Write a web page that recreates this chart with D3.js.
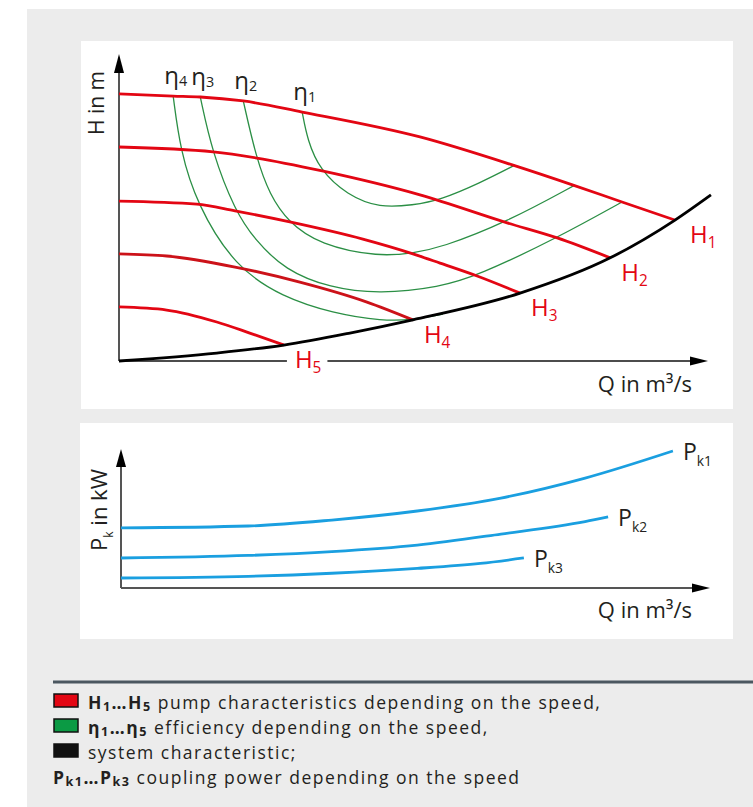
<!DOCTYPE html>
<meta charset="utf-8">
<script src="https://d3js.org/d3.v7.min.js"></script>
<style>
  body { margin: 0; background: #fff; }
  svg { display: block; }
  text { font-family: "Open Sans", Roboto, "Liberation Sans", sans-serif; fill: #231f20; }
</style>
<div id="chart"></div>
<script>

// pump characteristics H1..H5, points as [Q, H] (axis units 0..100)
var pumpH1 = [[0,87.0],[9.2,86.3],[13.8,86.0],[21.1,84.7],[31.1,81.1],[51.1,73.0],[66.9,63.8],[77.1,57.3],[85.4,51.8],[94.4,45.9]];
var pumpH2 = [[0,69.7],[16.0,68.1],[23.4,66.1],[34.5,61.9],[51.1,54.1],[65.9,45.0],[74.4,40.1],[83.4,33.6]];
var pumpH3 = [[0,52.1],[13.2,51.1],[19.7,48.9],[29.0,45.3],[41.4,39.7],[49.9,34.9],[54.5,31.9],[60.8,27.7],[68.1,22.1]];
var pumpH4 = [[0,34.9],[8.1,34.2],[19.7,30.6],[30.7,25.7],[42.1,19.2],[49.9,13.4]];
var pumpH5 = [[0,17.6],[8.1,16.6],[16.6,12.7],[22.2,9.1],[28.0,5.2]];
var pumpNames = ["1", "2", "3", "4", "5"];

// efficiency curves eta1..eta4
var eta1 = [[31.1,81.1],[32.0,71.9],[34.1,62.2],[38.7,54.1],[44.3,49.8],[49.9,50.8],[54.5,52.4],[61.3,58.0],[67.2,63.8]];
var eta2 = [[21.1,84.7],[23.3,66.1],[25.6,54.1],[28.7,45.3],[34.1,37.8],[44.3,33.9],[49.9,35.2],[54.5,36.8],[65.9,45.3],[77.4,57.3]];
var eta3 = [[13.8,86.0],[15.8,68.1],[19.7,48.9],[23.1,39.4],[28.2,29.6],[35.8,23.8],[44.3,21.8],[54.5,24.1],[60.8,27.7],[74.4,40.1],[85.4,51.8]];
var eta4 = [[9.2,86.3],[10.4,68.7],[13.2,51.1],[19.7,30.6],[27.8,20.8],[36.3,15.6],[44.8,13.0],[49.9,13.4],[55.0,15.3]];
var etaNames = ["1", "2", "3", "4"];

// system characteristic
var system = [[0,0],[16.6,2.6],[28.0,5.2],[39.2,9.1],[49.9,13.4],[68.1,22.1],[83.4,33.6],[94.4,45.9],[100.5,54.1]];

// coupling power Pk1..Pk3, [Q, P]
var powerK1 = [[0,43.2],[21.6,44.6],[35.8,48.9],[50.3,55.4],[64.5,64.7],[78.8,79.1],[93.7,98.6]];
var powerK2 = [[0,21.6],[21.6,23.4],[35.8,26.2],[50.3,30.9],[64.5,38.8],[78.8,47.8],[82.7,51.1]];
var powerK3 = [[0,7.2],[21.6,8.4],[35.8,10.6],[50.3,14.1],[61.0,17.7],[68.4,21.6]];
var powerNames = ["k1", "k2", "k3"];

var RED = "#e30613", GREEN = "#2b8f45", BLUE = "#1a9fe0";

var svg = d3.select("#chart").append("svg")
    .attr("width", 753)
    .attr("height", 807);

// panels
svg.append("rect").attr("x", 27).attr("y", 9).attr("width", 726).attr("height", 798).attr("fill", "#ececec");
svg.append("rect").attr("x", 81).attr("y", 41).attr("width", 652).attr("height", 368).attr("fill", "#fff");
svg.append("rect").attr("x", 80).attr("y", 423).attr("width", 653).attr("height", 216).attr("fill", "#fff");

// writes text with subscripts: parts = [text, kind], kind has "b" for bold, "s" for subscript
function rich(sel, parts, size, subScale, subDrop) {
  var shift = 0;
  parts.forEach(function(p) {
    var isSub = p[1].indexOf("s") >= 0;
    var target = isSub ? size * subDrop : 0;
    var ts = sel.append("tspan")
      .attr("dy", target - shift)
      .attr("font-size", isSub ? size * subScale : size)
      .text(p[0]);
    if (p[1].indexOf("b") >= 0) ts.attr("font-weight", "bold");
    shift = target;
  });
}

function arrowUp(g, cx, tip, len, half) {
  g.append("path").attr("d", "M" + cx + "," + tip + "L" + (cx - half) + "," + (tip + len) + "L" + (cx + half) + "," + (tip + len) + "Z").attr("fill", "#000");
}
function arrowRight(g, cy, tip, len, half) {
  g.append("path").attr("d", "M" + tip + "," + cy + "L" + (tip - len) + "," + (cy - half) + "L" + (tip - len) + "," + (cy + half) + "Z").attr("fill", "#000");
}

// ---------- upper chart: H over Q ----------
var x = d3.scaleLinear().domain([0, 100]).range([119, 708]);
var y = d3.scaleLinear().domain([0, 100]).range([361, 54]);

var line = d3.line()
  .x(function(d) { return x(d[0]); })
  .y(function(d) { return y(d[1]); })
  .curve(d3.curveMonotoneX);
var loop = d3.line()
  .x(function(d) { return x(d[0]); })
  .y(function(d) { return y(d[1]); })
  .curve(d3.curveBasis);

var upper = svg.append("g");

// axes
upper.append("line").attr("x1", x(0)).attr("x2", x(0)).attr("y1", y(0)).attr("y2", y(100) + 16)
  .attr("stroke", "#555").attr("stroke-width", 2);
arrowUp(upper, x(0), y(100), 19, 5);
upper.append("line").attr("x1", x(0)).attr("x2", x(100) - 16).attr("y1", y(0)).attr("y2", y(0))
  .attr("stroke", "#111").attr("stroke-width", 1.5);
arrowRight(upper, y(0), x(100), 18, 4.5);

upper.append("text")
  .attr("transform", "translate(104,103) rotate(-90)")
  .attr("text-anchor", "middle")
  .attr("font-size", 21)
  .text("H in m");

upper.append("text")
  .attr("x", 692).attr("y", 392)
  .attr("text-anchor", "end")
  .attr("font-size", 22)
  .text("Q in m\u00b3/s");

// efficiency curves
[eta1, eta2, eta3, eta4].forEach(function(c, i) {
  upper.append("path").datum(c)
    .attr("d", loop)
    .attr("fill", "none")
    .attr("stroke", GREEN)
    .attr("stroke-width", 1.3);
  var t = upper.append("text")
    .attr("x", x(c[0][0]) - 9)
    .attr("y", y(c[0][1]) - 12);
  rich(t, [["\u03b7", "n"], [etaNames[i], "s"]], 24, 0.6, 0.08);
});

// pump curves
[pumpH1, pumpH2, pumpH3, pumpH4, pumpH5].forEach(function(c, i) {
  upper.append("path").datum(c)
    .attr("d", line)
    .attr("fill", "none")
    .attr("stroke", i == 3 ? "#cc1219" : RED)
    .attr("stroke-width", 2.8);
});

// system characteristic
upper.append("path").datum(system)
  .attr("d", line)
  .attr("fill", "none")
  .attr("stroke", "#000")
  .attr("stroke-width", 2.8);

// H labels
[pumpH1, pumpH2, pumpH3, pumpH4, pumpH5].forEach(function(c, i) {
  var end = c[c.length - 1];
  var g = upper.append("g");
  var t = g.append("text")
    .attr("x", x(end[0]) + (i == 0 ? 15 : 11))
    .attr("y", y(end[1]) + 23)
    .style("fill", RED);
  rich(t, [["H", "n"], [pumpNames[i], "s"]], 24, 0.64, 0.22);
  if (i == 4) {
    // gap in the Q axis behind the H5 label
    var bb = t.node().getBBox();
    g.insert("rect", "text")
      .attr("x", bb.x - 8).attr("y", y(0) - 4)
      .attr("width", bb.width + 14).attr("height", 8)
      .attr("fill", "#fff");
  }
});

// ---------- lower chart: Pk over Q ----------
var x2 = d3.scaleLinear().domain([0, 100]).range([121, 710]);
var y2 = d3.scaleLinear().domain([0, 100]).range([588, 449]);

var line2 = d3.line()
  .x(function(d) { return x2(d[0]); })
  .y(function(d) { return y2(d[1]); })
  .curve(d3.curveMonotoneX);

var lower = svg.append("g");

lower.append("line").attr("x1", x2(0)).attr("x2", x2(0)).attr("y1", y2(0)).attr("y2", y2(100) + 15)
  .attr("stroke", "#555").attr("stroke-width", 2);
arrowUp(lower, x2(0), y2(100), 18, 5);
lower.append("line").attr("x1", x2(0)).attr("x2", x2(100) - 15).attr("y1", y2(0)).attr("y2", y2(0))
  .attr("stroke", "#555").attr("stroke-width", 2);
arrowRight(lower, y2(0), x2(100), 18, 4.5);

var pl = lower.append("text")
  .attr("transform", "translate(107,510) rotate(-90)")
  .attr("text-anchor", "middle");
rich(pl, [["P", "n"], ["k", "s"], [" in kW", "n"]], 22, 0.55, 0.25);

lower.append("text")
  .attr("x", 692).attr("y", 618)
  .attr("text-anchor", "end")
  .attr("font-size", 22)
  .text("Q in m\u00b3/s");

[powerK1, powerK2, powerK3].forEach(function(c, i) {
  lower.append("path").datum(c)
    .attr("d", line2)
    .attr("fill", "none")
    .attr("stroke", BLUE)
    .attr("stroke-width", 2.8);
  var end = c[c.length - 1];
  var t = lower.append("text")
    .attr("x", x2(end[0]) + 10)
    .attr("y", y2(end[1]) + 9);
  rich(t, [["P", "n"], [powerNames[i], "s"]], 23, 0.6, 0.25);
});

// ---------- legend ----------
var leg = svg.append("g");
leg.append("line").attr("x1", 53).attr("x2", 753).attr("y1", 682).attr("y2", 682)
  .attr("stroke", "#4b5760").attr("stroke-width", 3);

var legendFills = [RED, "#0b9a44", "#111"];
legendFills.forEach(function(f, i) {
  leg.append("rect")
    .attr("x", 54).attr("y", 694 + i * 25)
    .attr("width", 24).attr("height", 13)
    .attr("fill", f).attr("stroke", "#111").attr("stroke-width", 1.5);
});

var legendRows = [
  [["H", "b"], ["1", "bs"], ["\u2026H", "b"], ["5", "bs"], [" pump characteristics depending on the speed,", "n"]],
  [["\u03b7", "b"], ["1", "bs"], ["\u2026\u03b7", "b"], ["5", "bs"], [" efficiency depending on the speed,", "n"]],
  [["system characteristic;", "n"]],
  [["P", "b"], ["k1", "bs"], ["\u2026P", "b"], ["k3", "bs"], [" coupling power depending on the speed", "n"]]
];
legendRows.forEach(function(r, i) {
  var t = leg.append("text")
    .attr("x", i == 3 ? 53 : 88)
    .attr("y", 709 + i * 25)
    .attr("letter-spacing", 1.5);
  rich(t, r, 17.5, 0.72, 0.12);
});

</script>
